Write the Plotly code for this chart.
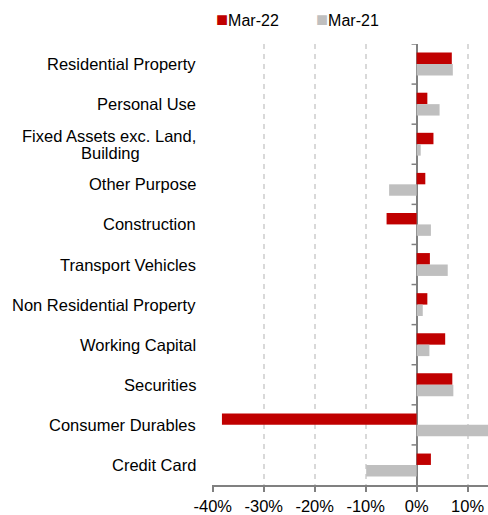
import plotly.graph_objects as go

categories = [
    "Residential Property",
    "Personal Use",
    "Fixed Assets exc. Land,<br>Building",
    "Other Purpose",
    "Construction",
    "Transport Vehicles",
    "Non Residential Property",
    "Working Capital",
    "Securities",
    "Consumer Durables",
    "Credit Card",
]
mar22 = [6.9, 2.1, 3.3, 1.7, -5.9, 2.6, 2.1, 5.6, 7.0, -38.2, 2.8]
mar21 = [7.1, 4.5, 0.8, -5.4, 2.8, 6.1, 1.2, 2.5, 7.2, 15.5, -9.9]
series_names = ["Mar-22", "Mar-21"]
series_colors = ["#C00000", "#BFBFBF"]
xtick_vals = [-40, -30, -20, -10, 0, 10]
xtick_text = ["-40%", "-30%", "-20%", "-10%", "0%", "10%"]

FONT = "Liberation Sans, Arial, sans-serif"
idx = list(range(len(categories)))

W, H = 488, 515
ML, MR, MT, MB = 212, 0, 44, 27
PLOT_W = W - ML - MR

fig = go.Figure()
for name, vals, col in zip(series_names, [mar22, mar21], series_colors):
    fig.add_trace(go.Bar(
        y=idx, x=vals, name=name, orientation="h",
        marker=dict(color=col, line=dict(width=0)),
        showlegend=False,
    ))

# category labels (multi-line labels centred under the first line, tight spacing)
LINE_H = 17
CHAR_W = 7.6
LABEL_PAD = 14
for i, c in enumerate(categories):
    lines = c.split("<br>")
    n = len(lines)
    first_w = len(lines[0]) * CHAR_W
    for k, s in enumerate(lines):
        if k == 0:
            anchor, shift = "right", -LABEL_PAD
        else:
            anchor, shift = "center", -LABEL_PAD - first_w / 2
        fig.add_annotation(
            x=0, xref="paper", y=i, yref="y", text=s, showarrow=False,
            xanchor=anchor, xshift=shift,
            yshift=((n - 1) / 2 - k) * LINE_H,
            font=dict(family=FONT, size=16.5, color="#000000"),
        )

# y-axis tick marks on the zero line at category boundaries
for b in range(len(categories)):
    fig.add_shape(type="line", xref="x", yref="y", x0=-1.0, x1=0, y0=b - 0.5, y1=b - 0.5,
                  line=dict(color="#808080", width=1.5))

# legend drawn as text
legend_x = [214, 314]
for name, col, lx in zip(series_names, series_colors, legend_x):
    fig.add_annotation(
        x=(lx - ML) / PLOT_W, xref="paper", y=1, yref="paper", yshift=25,
        text=f"<span style='color:{col};font-size:20px'>■</span>{name}", showarrow=False,
        xanchor="left", yanchor="middle",
        font=dict(family=FONT, size=16, color="#000000"),
    )

fig.update_layout(
    width=W, height=H,
    margin=dict(l=ML, r=MR, t=MT, b=MB),
    paper_bgcolor="white", plot_bgcolor="white",
    barmode="group", bargap=0.43, bargroupgap=0,
    font=dict(family=FONT, size=16, color="#000000"),
    xaxis=dict(
        range=[-40.15, 14], tickvals=xtick_vals, ticktext=xtick_text,
        showgrid=True, gridcolor="#D9D9D9", gridwidth=1.5, griddash="5px,5px",
        zeroline=True, zerolinecolor="#808080", zerolinewidth=2,
        showline=True, linecolor="#808080", linewidth=1.5,
        ticks="outside", ticklen=5, tickcolor="#808080", tickwidth=1.5,
        tickfont=dict(family=FONT, size=16.5, color="#000000"),
    ),
    yaxis=dict(
        range=[10.5, -0.5], showticklabels=False, showgrid=False,
        zeroline=False, showline=False, ticks="",
    ),
)

fig.write_html(
    "out.html",
    config={"displayModeBar": False},
    post_script="document.body.style.margin='0';document.body.style.overflow='hidden';",
)
